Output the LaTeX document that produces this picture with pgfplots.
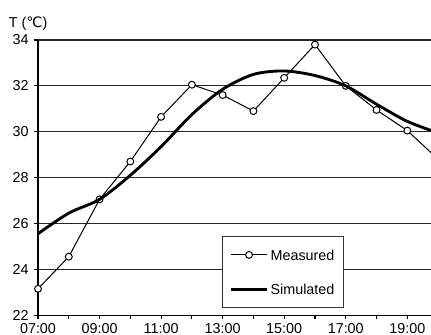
\documentclass[border=0pt]{standalone}
\usepackage{pgfplots}
\pgfplotsset{compat=1.18}
\usepackage{fontspec}
\setmainfont{Liberation Sans}
\newfontfamily\dejavu{DejaVu Sans}
\begin{document}
\begin{tikzpicture}
\begin{axis}[
 name=ax,
 scale only axis, width=273.5pt, height=191.5pt,
 xmin=7, xmax=19.77, ymin=22, ymax=34,
 axis x line*=bottom, axis y line*=left,
 axis line style={black, line width=0.9pt, -},
 xtick={7,9,...,19},
 xticklabels={07:00,09:00,11:00,13:00,15:00,17:00,19:00},
 minor xtick={8,10,...,18},
 ytick={22,24,...,34},
 tick align=outside, major tick length=3pt, minor tick length=3pt,
 tick style={black, line width=0.8pt},
 ymajorgrids, major grid style={black!85, line width=0.8pt},
 /pgf/number format/assume math mode=true,
 ticklabel style={font=\fontsize{10}{12}\selectfont},
 xticklabel style={yshift=1pt},
 clip mode=individual,
 legend image code/.code={\draw[mark repeat=2,mark phase=2,#1] plot coordinates {(0pt,0pt) (12.5pt,0pt) (25pt,0pt)};},
 legend style={at={(0.468,0.025)}, anchor=south west, draw=black!80, line width=0.7pt, fill=white,
   inner xsep=5pt, inner ysep=8pt, row sep=15pt,
   font=\fontsize{10}{12}\selectfont,
   nodes={inner xsep=1.5pt, inner ysep=1pt, text height=7.2pt, text depth=0pt}},
 legend cell align=left,
]
\addplot[black, line width=0.7pt, mark=*, mark size=2.4pt, mark options={fill=white, line width=0.7pt}]
 coordinates {(7,23.15) (8,24.55) (9,27.05) (10,28.7) (11,30.65) (12,32.05) (13,31.6) (14,30.9) (15,32.35) (16,33.8) (17,32.0) (18,30.95) (19,30.05) (20,28.8)};
\addlegendentry{Measured}
\addplot[black, line width=2pt, smooth, tension=0.5]
 coordinates {(7,25.55) (8,26.45) (9,27.05) (10,28.1) (11,29.35) (12,30.75) (13,31.85) (14,32.5) (15,32.65) (16,32.45) (17,32.0) (18,31.2) (19,30.45) (20,29.95)};
\addlegendentry{Simulated}
\end{axis}
\node[anchor=base west, font=\fontsize{10}{12}\selectfont, inner sep=0pt] at ([xshift=-20.5pt, yshift=9pt]ax.north west) {T ({\dejavu ℃})};
\pgfresetboundingbox
\path[use as bounding box] ([xshift=-26.45pt, yshift=-13.2pt]ax.south west) rectangle ([yshift=27.84pt]ax.north east);
\end{tikzpicture}
\end{document}
